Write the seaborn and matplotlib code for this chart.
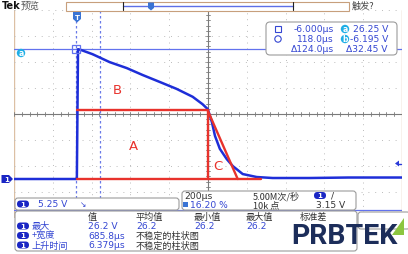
import numpy as np
import pandas as pd
import matplotlib
matplotlib.use("Agg")
import matplotlib.pyplot as plt
import seaborn as sns
from matplotlib.patches import FancyBboxPatch, Rectangle, Polygon, Circle

# ---------------- data (time in microseconds, voltage in volts) ----------------
time_us = [-324, -200, -100, -2, 0, 6, 18, 81, 169, 257, 339, 427, 514, 597, 648,
           675, 696, 712, 737, 773, 804, 855, 927, 1009, 1200, 1400, 1676]
volts = [0.0, 0.0, 0.0, 0.0, 0.0, 26.2, 26.1, 25.2, 23.6, 22.4, 21.0, 19.6, 18.2,
         16.6, 15.1, 14.1, 11.5, 8.7, 6.1, 4.0, 2.6, 1.0, 0.4, 0.2, 0.2, 0.3, 0.3]

# red annotation shapes (A rectangle, C triangle)
area_a_t = [0, 674, 674]
area_a_v = [13.9, 13.9, 0.0]
base_t = [0, 947]
base_v = [0.0, 0.0]
area_c_t = [674, 829]
area_c_v = [13.9, 0.0]
area_labels = ["B", "A", "C"]
area_label_t = [211, 293, 726]
area_label_v = [18.0, 6.7, 2.8]

# cursors / settings
cursor_t = [-6.0, 118.0]
cursor_v = [26.25, -6.195]
trig_level = 3.15
volts_per_div = 5.25
us_per_div = 200

cursor_rows = [("-6.000µs", "26.25 V"), ("118.0µs", "-6.195 V"), ("Δ124.0µs", "Δ32.45 V")]
meas_headers = ["值", "平均值", "最小值", "最大值", "标准差"]
meas_labels = ["最大", "+宽度", "上升时间"]
meas_values = ["26.2 V", "685.8µs", "6.379µs"]
meas_stats = [["26.2", "26.2", "26.2"], ["不稳定的柱状图"], ["不稳定的柱状图"]]

# ---------------- style ----------------
sns.set_theme(style="white")
plt.rcParams['font.family'] = ['Noto Sans CJK SC', 'DejaVu Sans']

W, H = 408, 255
fig = plt.figure(figsize=(W / 100, H / 100), dpi=100)
fig.patch.set_facecolor('white')

def frac(x0, y0, x1, y1):
    return [x0 / W, 1 - y1 / H, (x1 - x0) / W, (y1 - y0) / H]

BLUE = '#1e2ed8'
TXTBLUE = '#3446d2'
GRID = '#bcbcbc'
RED = '#e8322c'

# ---------------- scope graticule ----------------
ax = fig.add_axes(frac(14, 11, 402, 219))
t0 = -324
v0 = -7.875
ax.set_xlim(t0, t0 + 10 * us_per_div)
ax.set_ylim(v0, v0 + 8 * volts_per_div)
ax.axis('off')

for k in range(11):
    t = t0 + k * us_per_div
    if k == 5:
        ax.axvline(t, color='#7a7a7a', lw=0.8, zorder=1)
    elif k in (0, 10):
        ax.axvline(t, color='#dcc0a4', lw=1.0, zorder=1)
    else:
        ax.axvline(t, color=GRID, lw=0.7, ls=(0, (1, 5)), zorder=1)
for k in range(9):
    v = v0 + k * volts_per_div
    if k == 4:
        ax.axhline(v, color='#7a7a7a', lw=0.8, zorder=1)
    else:
        ax.axhline(v, color=GRID, lw=0.7, ls=(0, (1, 6)), zorder=1)

# minor ticks on centre lines
tc = t0 + 5 * us_per_div
vc = v0 + 4 * volts_per_div
for i in range(51):
    t = t0 + i * us_per_div / 5
    ax.plot([t, t], [vc - 0.5, vc + 0.5], color='#7a7a7a', lw=0.6, zorder=1)
for i in range(41):
    v = v0 + i * volts_per_div / 5
    ax.plot([tc - 8, tc + 8], [v, v], color='#7a7a7a', lw=0.6, zorder=1)

# cursors
ax.axhline(cursor_v[0], color='#6272ee', lw=0.9, zorder=2)
ax.axhline(cursor_v[1], color='#6272ee', lw=0.9, zorder=2)
for ct in cursor_t:
    ax.axvline(ct, color='#6a7ae8', lw=0.9, ls=(0, (2, 2)), zorder=2)

# waveform
df = pd.DataFrame({"t": time_us, "v": volts})
sns.lineplot(data=df, x="t", y="v", ax=ax, color=BLUE, lw=1.8, zorder=4, sort=False)

# red annotations
ax.plot(area_a_t, area_a_v, color=RED, lw=1.7, zorder=5)
ax.plot(base_t, base_v, color=RED, lw=1.7, zorder=5)
ax.plot(area_c_t, area_c_v, color=RED, lw=1.7, zorder=5)
for lab, lt, lv in zip(area_labels, area_label_t, area_label_v):
    ax.text(lt, lv, lab, color=RED, fontsize=9.5, ha='center', va='center',
            family=['DejaVu Sans'], zorder=6)

# cursor a box
ax.plot([cursor_t[0]], [cursor_v[0]], marker='s', ms=6, mfc='none', mec='#6272ee', mew=0.9, zorder=6)

# ---------------- UI overlay ----------------
ui = fig.add_axes([0, 0, 1, 1])
ui.set_xlim(0, W)
ui.set_ylim(H, 0)
ui.axis('off')
ui.patch.set_alpha(0)

def rbox(x0, y0, x1, y1, r=3, ec='#9c9c9c', fc='white', lw=0.8, z=10):
    ui.add_patch(FancyBboxPatch((x0, y0), x1 - x0, y1 - y0,
                                boxstyle=f"round,pad=0,rounding_size={r}",
                                fc=fc, ec=ec, lw=lw, zorder=z))

def pill(x, y, s, z=12):
    ui.add_patch(FancyBboxPatch((x - 6, y - 3.5), 12, 7, boxstyle="round,pad=0,rounding_size=3.5",
                                fc='#1a26c4', ec='none', zorder=z))
    ui.text(x, y, s, color='white', fontsize=5, ha='center', va='center',
            family=['DejaVu Sans'], weight='bold', zorder=z + 1)

def circ(x, y, s, z=12):
    ui.add_patch(Circle((x, y), 4.2, fc='#1eaee6', ec='none', zorder=z))
    ui.text(x, y, s, color='white', fontsize=5.5, ha='center', va='center',
            family=['DejaVu Sans'], weight='bold', zorder=z + 1)

FS = 6.6

# top bar
ui.text(2, 6, "Tek", fontsize=7, weight='bold', color='#111111', va='center', family=['DejaVu Sans'])
ui.text(21, 6, "预览", fontsize=6.8, color='#555555', va='center')
ui.add_patch(Rectangle((66, 2.5), 283, 9, fc='white', ec='#c79f7c', lw=0.8, zorder=8))
ui.plot([123, 293], [7, 7], color='#5d6fe6', lw=1.0, zorder=9)
ui.plot([123, 123], [3, 11], color='#222222', lw=0.8, zorder=9)
ui.plot([293, 293], [3, 11], color='#222222', lw=0.8, zorder=9)
ui.add_patch(Polygon([[148, 3.5], [154, 3.5], [154, 9], [151, 11.5], [148, 9]], fc='#3a74d4', ec='none', zorder=10))
ui.text(352, 6, "触发?", fontsize=6.6, color='#444444', va='center')

# trigger marker at top of graticule
ui.add_patch(Polygon([[73, 13], [81, 13], [81, 20], [77, 23.5], [73, 20]], fc='#3a74d4', ec='none', zorder=10))
ui.text(77, 17.5, "T", color='white', fontsize=5, ha='center', va='center', weight='bold',
        family=['DejaVu Sans'], zorder=11)

# cursor a marker on left
circ(21, 54, "a")

# ground marker
ui.add_patch(Polygon([[1.5, 176], [9, 176], [13, 180], [9, 184], [1.5, 184]], fc='#1a26c4', ec='none', zorder=10))
ui.text(6.5, 180, "1", color='white', fontsize=5, ha='center', va='center', weight='bold',
        family=['DejaVu Sans'], zorder=11)

# trigger level marker right
ui.add_patch(Polygon([[395, 164.5], [399, 161.5], [399, 167.5]], fc='#2a3ad8', ec='none', zorder=10))
ui.plot([398, 401], [164.5, 164.5], color='#2a3ad8', lw=1.0, zorder=10)

# cursor readout box
rbox(266, 23, 397, 56, r=4)
ui.add_patch(Rectangle((275, 27), 6, 6, fc='none', ec=TXTBLUE, lw=0.8, zorder=12))
ui.add_patch(Circle((278, 40), 3.2, fc='none', ec=TXTBLUE, lw=0.8, zorder=12))
row_y = [30, 40, 50]
for (l, r), yy in zip(cursor_rows, row_y):
    ui.text(334, yy, l, color=TXTBLUE, fontsize=FS, ha='right', va='center', family=['DejaVu Sans'], zorder=12)
    ui.text(388, yy, r, color=TXTBLUE, fontsize=FS, ha='right', va='center', family=['DejaVu Sans'], zorder=12)
circ(345, 30, "a")
circ(345, 40, "b")

# channel box
rbox(15, 199, 179, 211)
pill(23, 205, "1")
ui.text(38, 205, f"{volts_per_div:.2f} V", color=TXTBLUE, fontsize=FS, va='center', family=['DejaVu Sans'], zorder=12)
ui.text(80, 205, "↘", color=TXTBLUE, fontsize=5.5, va='center', family=['DejaVu Sans'], zorder=12)

# horizontal box
rbox(182, 192, 356, 211)
ui.text(184, 196.5, f"{us_per_div}µs", color='#333333', fontsize=FS, va='center', family=['DejaVu Sans'], zorder=12)
ui.text(253, 196.5, "5.00M次/秒", color='#333333', fontsize=FS, va='center', zorder=12)
pill(320, 196.5, "1")
ui.text(331, 196.5, "/", color='#333333', fontsize=FS, va='center', family=['DejaVu Sans'], zorder=12)
ui.add_patch(Rectangle((183, 202.5), 4.5, 5.5, fc='#3a74d4', ec='none', zorder=12))
ui.text(190, 205.5, "16.20 %", color=TXTBLUE, fontsize=FS, va='center', family=['DejaVu Sans'], zorder=12)
ui.text(253, 205.5, "10k 点", color='#333333', fontsize=FS, va='center', zorder=12)
ui.text(316, 205.5, f"{trig_level:.2f} V", color='#333333', fontsize=FS, va='center', family=['DejaVu Sans'], zorder=12)

# box behind logo
rbox(358, 213, 410, 230)

# measurement box
rbox(15, 212, 357, 252)
head_x = [88, 136, 194, 246, 300]
for hx, h in zip(head_x, meas_headers):
    ui.text(hx, 217.5, h, color='#333333', fontsize=FS, va='center', zorder=12)
meas_y = [227, 236.5, 246]
for lab, val, stats, yy in zip(meas_labels, meas_values, meas_stats, meas_y):
    pill(23, yy, "1")
    ui.text(32, yy, lab, color=TXTBLUE, fontsize=FS, va='center', zorder=12)
    ui.text(88, yy, val, color=TXTBLUE, fontsize=FS, va='center', family=['DejaVu Sans'], zorder=12)
    if len(stats) == 3:
        for sx, sv in zip(head_x[1:4], stats):
            ui.text(sx, yy, sv, color=TXTBLUE, fontsize=FS, va='center', family=['DejaVu Sans'], zorder=12)
    else:
        ui.text(136, yy, stats[0], color='#333333', fontsize=FS, va='center', zorder=12)

# logo
ui.text(291, 237, "PRBTEK", color='#1c2d5a', fontsize=20.5, weight='bold', va='center', ha='left',
        family=['Roboto', 'DejaVu Sans'], zorder=20)
ui.add_patch(Polygon([[392, 236], [404, 219], [404, 236]], fc='#8cc63f', ec='none', zorder=21))

fig.savefig("out.png", dpi=100, facecolor='white')
